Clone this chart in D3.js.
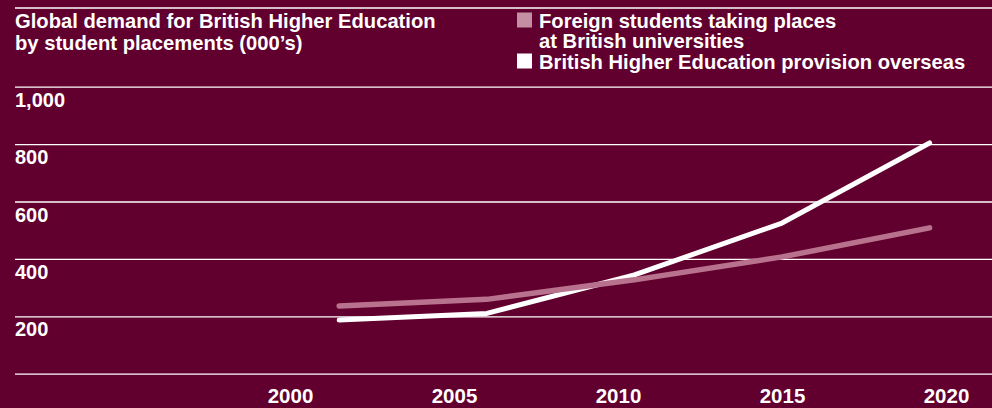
<!DOCTYPE html>
<html>
<head>
<meta charset="utf-8">
<script src="https://cdn.jsdelivr.net/npm/d3@7"></script>
<style>
  html, body { margin: 0; padding: 0; background: #61002e; }
  svg { display: block; }
  text { font-family: "Liberation Sans", Arial, Helvetica, sans-serif; font-weight: bold; fill: #fff; }
</style>
</head>
<body>
<svg id="chart" width="992" height="408"></svg>
<script>
const titleLines = ["Global demand for British Higher Education", "by student placements (000\u2019s)"];
const yTicks = [0, 200, 400, 600, 800, 1000];
const xTicks = [2000, 2005, 2010, 2015, 2020];
const years = [2001.5, 2006, 2010.5, 2015, 2019.5];
const foreignStudents = [236, 259, 327, 407, 508];
const provisionOverseas = [187, 210, 344, 525, 804];
const legendItems = [
  { name: ["Foreign students taking places", "at British universities"], color: "#c48fa3" },
  { name: ["British Higher Education provision overseas"], color: "#ffffff" }
];

const W = 992, H = 408;
const svg = d3.select("#chart");
svg.append("rect").attr("width", W).attr("height", H).attr("fill", "#61002e");

const x = d3.scaleLinear().domain([2000, 2020]).range([290, 946]);
const y = d3.scaleLinear().domain([0, 1000]).range([373.7, 86.7]);

// top rule
svg.append("line").attr("x1", 15).attr("x2", W).attr("y1", 8).attr("y2", 8)
  .attr("stroke", "#fff").attr("stroke-width", 1.3);

// title
const title = svg.append("text").attr("x", 15).attr("y", 28).style("font-size", "20.2px");
titleLines.forEach((t, i) => title.append("tspan").attr("x", 15).attr("dy", i === 0 ? 0 : 22).text(t));

// legend
const lg = svg.append("g");
let ly = 27.5;
legendItems.forEach(item => {
  lg.append("rect").attr("x", 517).attr("y", ly - 15).attr("width", 15).attr("height", 15).attr("fill", item.color);
  item.name.forEach((n, j) => {
    lg.append("text").attr("x", 539).attr("y", ly + j * 20.5).style("font-size", "20.2px").text(n);
  });
  ly += item.name.length * 20.5;
});

// y grid & labels
const yAxis = d3.axisRight(y).tickValues(yTicks).tickSize(W - 15)
  .tickFormat(d => d === 0 ? "" : d3.format(",")(d));
const gy = svg.append("g").attr("transform", "translate(15,0)").call(yAxis);
gy.select(".domain").remove();
gy.selectAll(".tick line").attr("stroke", "#fff").attr("stroke-width", 1.3);
gy.selectAll(".tick text").attr("x", 0).attr("dy", 0).attr("y", 19.5)
  .attr("text-anchor", "start").style("font-size", "20px")
  .style("font-family", "'Liberation Sans', Arial, sans-serif").style("font-weight", "bold").attr("fill", "#fff");

// x labels
const xAxis = d3.axisBottom(x).tickValues(xTicks).tickSize(0).tickFormat(d3.format("d"));
const gx = svg.append("g").attr("transform", "translate(0,0)").call(xAxis);
gx.select(".domain").remove();
gx.selectAll(".tick text").attr("y", 403).attr("dy", 0)
  .style("font-size", "20.5px").style("font-family", "'Liberation Sans', Arial, sans-serif")
  .style("font-weight", "bold").attr("fill", "#fff");

// lines
const line = d3.line().x(d => x(d[0])).y(d => y(d[1]));
svg.append("path").datum(years.map((yr, i) => [yr, provisionOverseas[i]]))
  .attr("d", line).attr("fill", "none").attr("stroke", "#ffffff")
  .attr("stroke-width", 5).attr("stroke-linecap", "round").attr("stroke-linejoin", "round");
svg.append("path").datum(years.map((yr, i) => [yr, foreignStudents[i]]))
  .attr("d", line).attr("fill", "none").attr("stroke", "#b8728d")
  .attr("stroke-width", 5.5).attr("stroke-linecap", "round").attr("stroke-linejoin", "round");
</script>
</body>
</html>
